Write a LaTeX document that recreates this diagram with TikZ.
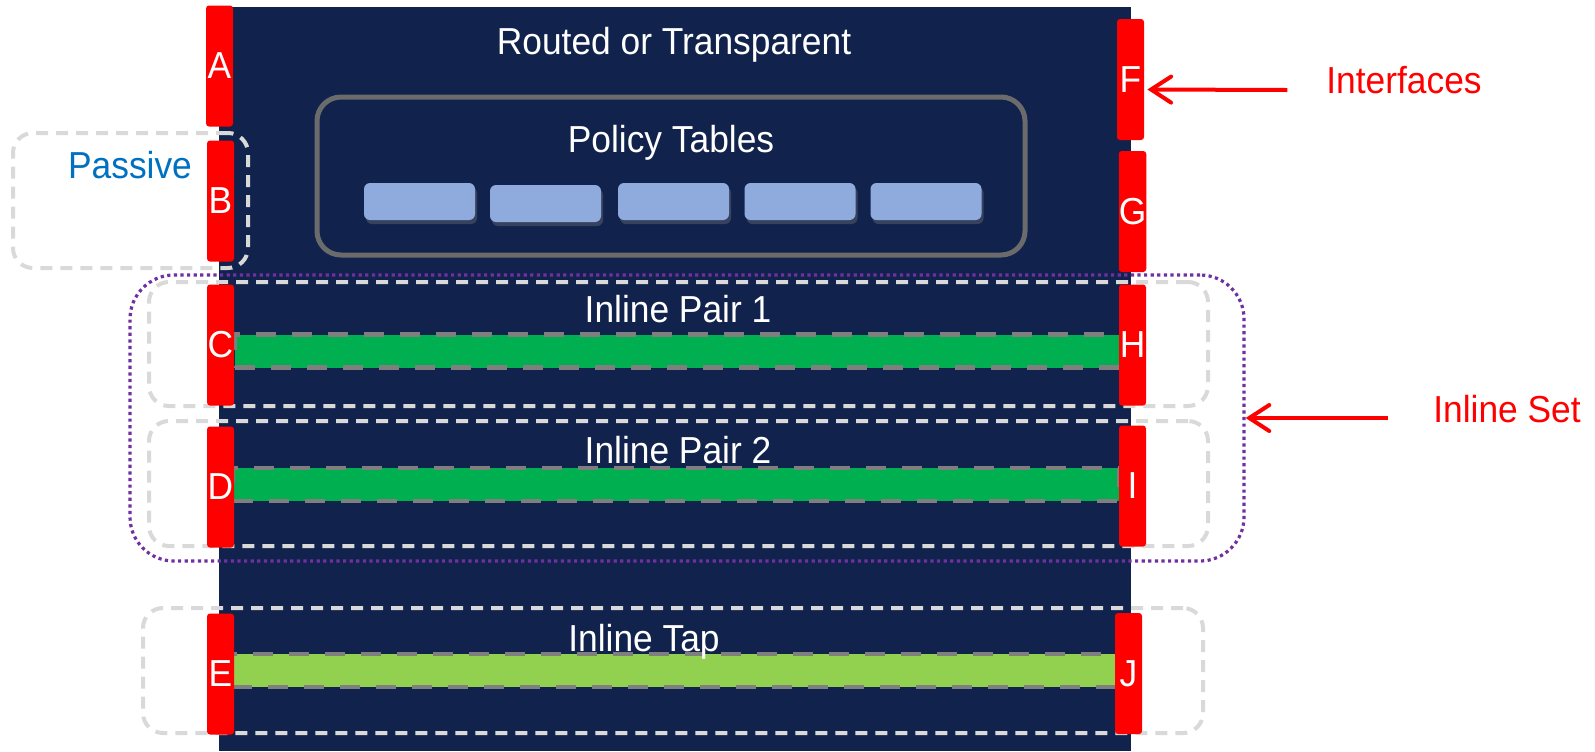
\documentclass[tikz,border=0pt]{standalone}
\usepackage{fontspec}
\setmainfont{Liberation Sans}[FakeStretch=0.94]
\usetikzlibrary{arrows.meta, shadows}

\definecolor{navy}{RGB}{17,35,76}
\definecolor{portred}{RGB}{255,0,0}
\definecolor{tableblue}{RGB}{143,170,220}
\definecolor{pairgreen}{RGB}{0,176,80}
\definecolor{tapgreen}{RGB}{146,208,80}
\definecolor{setpurple}{RGB}{112,48,160}
\definecolor{passblue}{RGB}{0,112,192}
\definecolor{dashgray}{RGB}{217,217,217}
\definecolor{bargray}{RGB}{127,127,127}
\definecolor{framegray}{RGB}{107,107,107}

\tikzstyle{chassis} = [rectangle, fill=navy, inner sep=0pt]
\tikzstyle{port} = [rectangle, fill=portred, rounded corners=1.5pt, minimum width=13.5pt, minimum height=60.5pt, inner sep=0pt, text=white]
\tikzstyle{policy} = [rectangle, draw=framegray, line width=2.5pt, rounded corners=12pt, minimum width=354pt, minimum height=79pt]
\tikzstyle{table} = [rectangle, fill=tableblue, rounded corners=3pt, minimum width=55.5pt, minimum height=18.5pt, drop shadow={shadow xshift=1pt, shadow yshift=-2pt, opacity=0.35}]
\tikzstyle{group} = [rectangle, draw=dashgray, line width=2pt, dash pattern=on 6pt off 4pt, rounded corners=10pt]
\tikzstyle{set} = [rectangle, draw=setpurple, line width=1.6pt, dash pattern=on 1.6pt off 1.7pt, rounded corners=22pt, minimum width=557pt, minimum height=143pt]
\tikzstyle{bar} = [rectangle, draw=bargray, line width=2.2pt, dash pattern=on 10pt off 8pt, minimum width=443pt, minimum height=16.5pt]
\tikzstyle{label} = [text=white]
\tikzstyle{note} = [text=portred]
\tikzstyle{pointer} = [line width=2pt, draw=portred, -{Straight Barb[length=10pt, width=13pt, line cap=round]}]

\begin{document}
\begin{tikzpicture}[x=0.5pt, y=-0.5pt, font=\fontsize{18.8}{22}\selectfont]

	\useasboundingbox (0,0) rectangle (1595,751);

	% Device body
	\node (device) [chassis, minimum width=456pt, minimum height=372pt] at (675,379) {};
	\node (mode) [label] at (674,45) {Routed or Transparent};

	% Policy tables
	\node (policy) [policy] at (671,176) {};
	\node (policytitle) [label] at (671,143) {Policy Tables};
	\node (tab1) [table] at (419.5,201.5) {};
	\node (tab2) [table] at (545.5,203.5) {};
	\node (tab3) [table] at (673.5,201.5) {};
	\node (tab4) [table] at (800,201.5) {};
	\node (tab5) [table] at (926,201.5) {};

	% Passive interface
	\node (passive) [group, minimum width=117.5pt, minimum height=67.5pt] at (130.5,200.5) {};
	\node (passivetxt) [text=passblue] at (130,165) {Passive};

	% Inline set and pairs
	\node (inlineset) [set] at (687,418) {};
	\node (pair1) [group, minimum width=529.5pt, minimum height=62pt] at (678.5,344) {};
	\node (pair2) [group, minimum width=529.5pt, minimum height=62.5pt] at (678.5,483.5) {};
	\node (tap) [group, minimum width=530pt, minimum height=62.5pt] at (673,670.5) {};

	\node (link1) [bar, fill=pairgreen] at (678,351) {};
	\node (link2) [bar, fill=pairgreen] at (676,484.5) {};
	\node (link3) [bar, fill=tapgreen] at (675,670.5) {};

	\node (pair1txt) [label] at (678,309) {Inline Pair 1};
	\node (pair2txt) [label] at (678,450) {Inline Pair 2};
	\node (taptxt) [label] at (644,642) {Inline Tap};

	% Interfaces
	\node (A) [port] at (219.5,66) {A};
	\node (B) [port] at (220.5,201) {B};
	\node (C) [port] at (220.5,345) {C};
	\node (D) [port] at (220.5,487) {D};
	\node (E) [port] at (220.5,674) {E};
	\node (F) [port] at (1130.5,79.5) {F};
	\node (G) [port] at (1132.5,211.5) {G};
	\node (H) [port] at (1132.5,345) {H};
	\node (I) [port] at (1132.5,486) {I};
	\node (J) [port] at (1128.5,673.5) {J};

	% Callouts
	\node (ifaces) [note] at (1404,80) {Interfaces};
	\node (settxt) [note] at (1507,409) {Inline Set};

	\draw[pointer] ([xshift=-16pt, yshift=-5pt]ifaces.west) -- ([xshift=1.5pt, yshift=-5pt]F.east);
	\draw[pointer] ([xshift=-19pt, yshift=-4.5pt]settxt.west) -- (inlineset.east);

\end{tikzpicture}
\end{document}
